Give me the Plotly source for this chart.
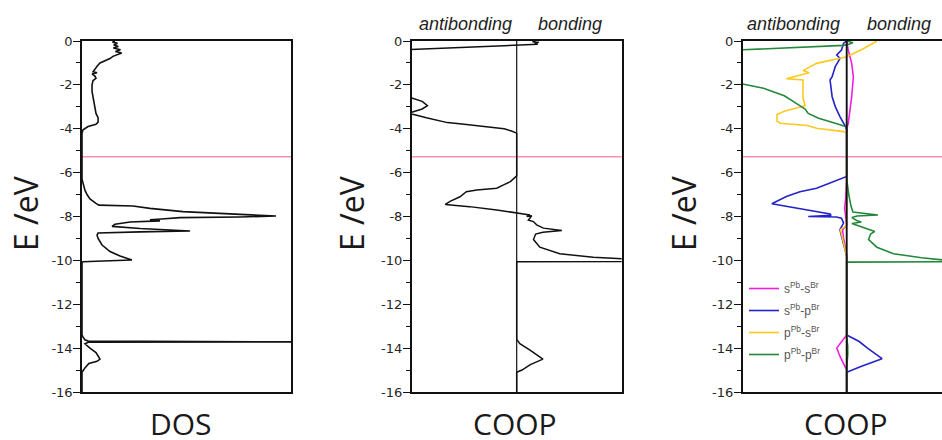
import plotly.graph_objects as go

# Reference energy (horizontal marker line), eV
E_REF = -5.28

# Energy-axis ticks
e_ticks = [0, -2, -4, -6, -8, -10, -12, -14, -16]
e_tick_labels = ["0", "-2", "-4", "-6", "-8", "-10", "-12", "-14", "-16"]

# ---- Total density of states ----
dos_E = [0.00, -0.05, -0.10, -0.18, -0.25, -0.32, -0.40, -0.48, -0.55, -0.62, -0.70, -0.80,
         -0.90, -1.00, -1.15, -1.30, -1.40, -1.45, -1.50, -1.60, -1.70, -1.80, -2.00, -2.30,
         -2.60, -3.00, -3.30, -3.50, -3.70, -3.80, -3.90, -4.05, -4.20, -6.30, -6.50, -6.80,
         -7.00, -7.20, -7.40, -7.48, -7.52, -7.63, -7.78, -7.86, -7.92, -7.98, -8.02, -8.05,
         -8.10, -8.15, -8.20, -8.25, -8.35, -8.45, -8.55, -8.62, -8.66, -8.70, -8.75, -8.85,
         -9.00, -9.30, -9.60, -9.80, -9.93, -9.98, -10.02, -10.06, -10.10, -13.40, -13.50,
         -13.62, -13.68, -13.69, -13.72, -13.73, -13.80, -14.00, -14.20, -14.50, -14.60,
         -14.70, -14.90, -15.10, -16.00]
dos_val = [1.58, 1.46, 1.70, 1.52, 1.74, 1.50, 1.84, 1.60, 1.90, 1.66, 1.48, 1.34,
           1.05, 0.86, 0.72, 0.62, 0.53, 0.72, 0.48, 0.62, 0.67, 0.53, 0.48, 0.48,
           0.53, 0.62, 0.67, 0.77, 0.77, 0.67, 0.29, 0.05, 0.00, 0.00, 0.05, 0.14,
           0.24, 0.38, 0.67, 0.81, 2.44, 3.25, 4.83, 6.46, 8.04, 9.28, 7.56, 4.69,
           3.97, 3.25, 3.73, 2.30, 1.58, 1.44, 2.78, 4.21, 5.17, 2.78, 0.77, 0.72,
           0.77, 0.96, 1.34, 1.82, 2.20, 2.39, 1.34, 0.05, 0.00, 0.00, 0.05,
           0.14, 0.30, 12.0, 12.0, 0.30, 0.14, 0.38, 0.67, 0.86, 0.72,
           0.33, 0.14, 0.00, 0.00]

# ---- Total COOP ----
coop_E = [0.00, -0.03, -0.06, -0.10, -0.15, -0.40, -0.45, -2.50, -2.60, -2.75, -2.95,
          -3.10, -3.25, -3.30, -3.35, -3.50, -3.62, -3.72, -3.80, -3.86, -3.92, -4.00,
          -4.10, -4.20, -6.15, -6.30, -6.41, -6.55, -6.71, -6.79, -6.87, -7.10, -7.30,
          -7.45, -7.55, -7.70, -7.85, -7.89, -7.93, -8.00, -7.97, -8.16, -8.23, -8.38,
          -8.53, -8.64, -8.72, -8.80, -9.05, -9.40, -9.70, -9.86, -9.96, -10.00, -10.05,
          -10.06, -13.60, -13.80, -14.10, -14.50, -14.75, -15.00, -15.10, -16.00]
coop_val = [0.18, 0.15, 0.21, 0.17, 0.20, -1.00, -1.30, -1.30, -1.00, -0.90, -0.85,
            -0.90, -1.00, -1.20, -0.98, -0.86, -0.76, -0.66, -0.50, -0.38, -0.22, -0.12,
            -0.05, 0.00, 0.00, -0.03, -0.06, -0.12, -0.19, -0.38, -0.48, -0.54, -0.63,
            -0.68, -0.45, -0.19, 0.00, 0.063, 0.127, 0.095, 0.143, 0.111, 0.159, 0.19,
            0.254, 0.43, 0.25, 0.18, 0.16, 0.22, 0.41, 0.73, 1.00, 1.30, 1.30,
            0.00, 0.00, 0.03, 0.13, 0.25, 0.13, 0.05, 0.00, 0.00]

# ---- Orbital-resolved COOP ----
ss_E = [0.00, -0.41, -1.02, -1.63, -2.54, -3.15, -3.75, -4.00, -6.30, -7.20, -7.60, -8.00,
        -8.40, -8.60, -9.00, -9.50, -9.80, -13.40, -13.70, -14.00, -14.38, -14.84, -15.00, -16.00]
ss_val = [0.00, 0.015, 0.048, 0.064, 0.048, 0.032, 0.015, 0.00, 0.00, -0.01, -0.02, -0.01,
          0.00, -0.04, -0.03, -0.01, 0.00, 0.00, -0.05, -0.096, -0.064, -0.016, 0.00, 0.00]

sp_E = [0.00, -0.10, -0.41, -0.64, -0.79, -1.17, -1.63, -1.78, -2.54, -2.99, -3.45, -3.83,
        -4.00, -6.18, -6.41, -6.71, -6.87, -7.09, -7.42, -7.55, -7.78, -7.88, -7.95, -7.97,
        -8.00, -8.02, -8.08, -8.30, -8.60, -8.90, -9.50, -9.80, -13.40, -13.70, -14.00,
        -14.48, -14.85, -15.05, -15.10, -16.00]
sp_val = [0.00, -0.03, -0.05, -0.096, -0.064, -0.11, -0.14, -0.16, -0.14, -0.11, -0.065, -0.016,
          0.00, 0.00, -0.13, -0.29, -0.45, -0.58, -0.72, -0.55, -0.29, -0.16, -0.15, -0.37,
          -0.37, -0.10, -0.05, -0.03, -0.065, -0.05, -0.016, 0.00, 0.00, 0.12, 0.20,
          0.34, 0.13, 0.02, 0.00, 0.00]

ps_E = [0.00, -0.35, -0.72, -0.87, -1.02, -1.25, -1.35, -1.45, -1.55, -1.65, -1.72, -1.78,
        -2.20, -2.60, -2.95, -3.20, -3.35, -3.65, -3.75, -3.85, -3.98, -4.13, -4.20, -8.40,
        -8.60, -9.00, -9.50, -9.80, -16.00]
ps_val = [0.29, 0.16, 0.00, -0.16, -0.29, -0.38, -0.42, -0.36, -0.44, -0.54, -0.58, -0.42,
          -0.42, -0.42, -0.40, -0.60, -0.67, -0.67, -0.64, -0.38, -0.29, -0.03, 0.00, 0.00,
          -0.06, -0.04, -0.02, 0.00, 0.00]

pp_E = [0.00, -0.08, -0.15, -0.20, -0.40, -0.45, -1.90, -1.96, -2.15, -2.50, -2.80, -3.10,
        -3.30, -3.52, -3.75, -3.90, -4.05, -6.30, -7.00, -7.50, -7.80, -7.85, -7.90, -7.93,
        -7.98, -8.05, -8.19, -8.25, -8.32, -8.40, -8.55, -8.68, -8.80, -9.05, -9.40, -9.70,
        -9.88, -9.98, -10.00, -10.06, -10.08, -13.50, -13.90, -14.30, -14.90, -16.00]
pp_val = [0.00, 0.06, 0.02, -0.03, -1.00, -1.30, -1.30, -1.00, -0.80, -0.60, -0.50, -0.40,
          -0.37, -0.27, -0.11, -0.01, 0.00, 0.00, 0.02, 0.04, 0.06, 0.15, 0.26, 0.30,
          0.10, 0.05, 0.10, 0.14, 0.05, 0.10, 0.20, 0.27, 0.23, 0.21, 0.29, 0.45,
          0.72, 0.92, 1.30, 1.30, 0.00, 0.00, 0.01, 0.01, 0.00, 0.00]

pair_names = ["s<sup>Pb</sup>-s<sup>Br</sup>", "s<sup>Pb</sup>-p<sup>Br</sup>",
              "p<sup>Pb</sup>-s<sup>Br</sup>", "p<sup>Pb</sup>-p<sup>Br</sup>"]
pair_colors = ["#f21ee6", "#2424c8", "#ffc81e", "#24883a"]

W, H = 942, 440
TOP, BOTTOM = 41, 392
LINE = "#111111"

fig = go.Figure()

fig.add_trace(go.Scatter(x=dos_val, y=dos_E, mode="lines", xaxis="x", yaxis="y",
                         line=dict(color=LINE, width=1.6), showlegend=False))
fig.add_trace(go.Scatter(x=coop_val, y=coop_E, mode="lines", xaxis="x2", yaxis="y2",
                         line=dict(color=LINE, width=1.5), showlegend=False))
for name, col, ev, vv in zip(pair_names, pair_colors,
                             [ss_E, sp_E, ps_E, pp_E], [ss_val, sp_val, ps_val, pp_val]):
    fig.add_trace(go.Scatter(x=vv, y=ev, mode="lines", xaxis="x3", yaxis="y3", name=name,
                             legendgroup=name, line=dict(color=col, width=1.6)))

# horizontal reference line in each panel
for ax, yr in [("x", "y"), ("x2", "y2"), ("x3", "y3")]:
    fig.add_shape(type="line", xref=ax + " domain", yref=yr, x0=0, x1=1,
                  y0=E_REF, y1=E_REF, line=dict(color="#ff8fae", width=1.5), layer="below")

# bonding / antibonding divider (COOP = 0), drawn above the curves
for ax, yr, w in [("x2", "y2", 1.2), ("x3", "y3", 1.9)]:
    fig.add_shape(type="line", xref=ax, yref=yr + " domain", x0=0, x1=0, y0=0, y1=1,
                  line=dict(color=LINE, width=w), layer="above")

ydom = [1 - BOTTOM / H, 1 - TOP / H]
xdoms = [[82 / W, 291 / W], [411.7 / W, 621.7 / W], [742.7 / W, 1.0]]
xranges = [[0, 10], [-1, 1], [-1, (W - 846.7) / 104]]

tickfont = dict(family="DejaVu Sans, sans-serif", size=13, color="#262626")
for i in range(3):
    sfx = "" if i == 0 else str(i + 1)
    fig.update_layout(**{
        "xaxis" + sfx: dict(domain=xdoms[i], range=xranges[i], showline=True, linecolor=LINE,
                            linewidth=1.5, mirror=True, showticklabels=False, ticks="",
                            showgrid=False, zeroline=False, anchor="y" + sfx,
                            automargin=False, fixedrange=True),
        "yaxis" + sfx: dict(domain=ydom, range=[-16, 0], tickmode="array", tickvals=e_ticks,
                            ticktext=e_tick_labels, showline=True,
                            linecolor=LINE, linewidth=1.5, mirror=(i < 2), ticks="outside",
                            ticklen=7, tickwidth=1.2, tickcolor=LINE, tickfont=tickfont,
                            ticklabelstandoff=-2,
                            minor=dict(dtick=1, ticks="outside", ticklen=4, tickwidth=1.2,
                                       tickcolor=LINE),
                            showgrid=False, zeroline=False, anchor="x" + sfx,
                            automargin=False, fixedrange=True),
    })

ann = []
for xc in [25, 351, 683]:
    ann.append(dict(text="E /eV", x=xc / W, y=1 - 213 / H, xref="paper", yref="paper",
                    textangle=-90, showarrow=False, xanchor="center", yanchor="middle",
                    font=dict(family="Open Sans, sans-serif", size=32, color="#1a1a1a")))
for txt, xc in [("DOS", 181), ("COOP", 515), ("COOP", 846)]:
    ann.append(dict(text=txt, x=xc / W, y=1 - 423 / H, xref="paper", yref="paper",
                    showarrow=False, xanchor="center", yanchor="middle",
                    font=dict(family="Open Sans, sans-serif", size=30, color="#1a1a1a")))
for txt, xc in [("antibonding", 465), ("bonding", 570), ("antibonding", 793), ("bonding", 899)]:
    ann.append(dict(text="<i>" + txt + "</i>", x=xc / W, y=1 - 24 / H, xref="paper",
                    yref="paper", showarrow=False, xanchor="center", yanchor="middle",
                    font=dict(family="Liberation Sans, Arial, sans-serif", size=18,
                              color="#222")))

fig.update_layout(
    width=W, height=H, template="none",
    margin=dict(l=0, r=0, t=0, b=0, autoexpand=False),
    paper_bgcolor="white", plot_bgcolor="white",
    annotations=ann,
    showlegend=True,
    legend=dict(x=744 / W, y=1 - 274 / H, xanchor="left", yanchor="top",
                bgcolor="rgba(0,0,0,0)", borderwidth=0,
                font=dict(family="Liberation Sans, Arial, sans-serif", size=12, color="#555"),
                tracegroupgap=3),
)

fig.write_html("out.html")
